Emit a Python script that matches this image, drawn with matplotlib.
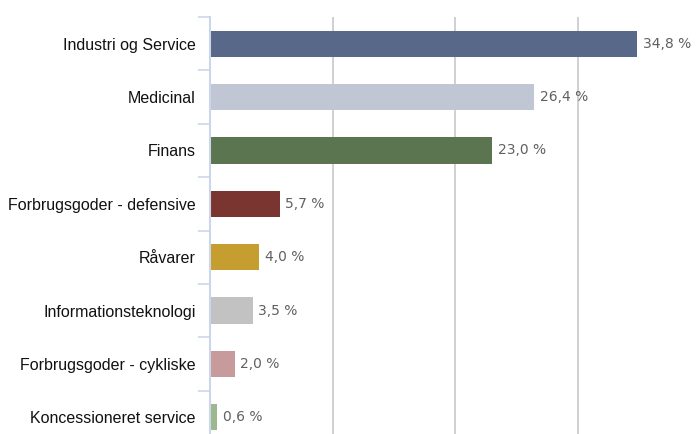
import matplotlib
matplotlib.use("Agg")
import matplotlib.pyplot as plt
import numpy as np

# sektorfordeling
categories = [
    "Industri og Service",
    "Medicinal",
    "Finans",
    "Forbrugsgoder - defensive",
    "Råvarer",
    "Informationsteknologi",
    "Forbrugsgoder - cykliske",
    "Koncessioneret service",
]
values = [34.8, 26.4, 23.0, 5.7, 4.0, 3.5, 2.0, 0.6]
colors = ["#586889", "#c0c6d3", "#5b7550", "#7b3531", "#c69d2f",
          "#c2c2c2", "#c79b9b", "#9db88f"]

fig = plt.figure(figsize=(6.96, 4.34), dpi=100)
ax = fig.add_axes([210 / 696, -10 / 434, 1 - 210 / 696, 427 / 434])

y = np.arange(len(categories))
ax.barh(y, values, height=0.49, color=colors, zorder=3)

ax.set_ylim(len(categories) - 0.5, -0.5)
ax.set_xlim(0, 39.6)

# value labels
for yi, v in zip(y, values):
    ax.text(v + 0.45, yi, f"{v:.1f}".replace(".", ",") + " %",
            va="center", ha="left", fontsize=10, color="#606060",
            family="DejaVu Sans", zorder=4)

ax.set_xticks([10, 20, 30])
ax.tick_params(axis="x", length=0, labelbottom=False)
ax.grid(axis="x", color="#c8c8c8", linewidth=1.2, zorder=0)

ax.set_yticks(y)
ax.set_yticklabels(categories, fontsize=11.5, family="Liberation Sans", color="#111111")
ax.tick_params(axis="y", which="major", length=0, pad=10.5)
ax.set_yticks(np.arange(-0.5, len(categories), 1), minor=True)
ax.tick_params(axis="y", which="minor", length=9, width=1.2, color="#ccd6eb")

for s in ["top", "right", "bottom"]:
    ax.spines[s].set_visible(False)
ax.spines["left"].set_color("#ccd6eb")
ax.spines["left"].set_linewidth(1.5)
ax.spines["left"].set_zorder(5)

fig.savefig("out.png", dpi=100)
